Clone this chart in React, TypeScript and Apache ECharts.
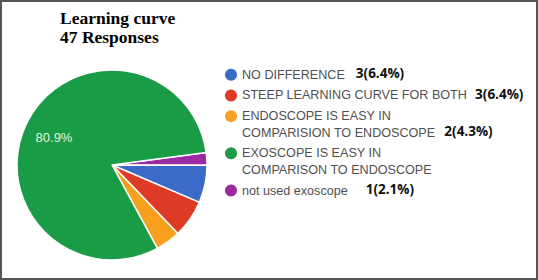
import React, { useEffect, useRef } from "react";
import * as echarts from "echarts";

// ---- data ----
const titleLines = ["Learning curve", "47 Responses"];
const categories = [
  "NO DIFFERENCE",
  "STEEP LEARNING CURVE FOR BOTH",
  "ENDOSCOPE IS EASY IN\nCOMPARISION TO ENDOSCOPE",
  "EXOSCOPE IS EASY IN\nCOMPARISON TO ENDOSCOPE",
  "not used exoscope",
];
const counts = [3, 3, 2, 38, 1];
const showCount = [true, true, true, false, true];
const colors = ["#3a6bc8", "#df3a26", "#f7a01e", "#1a9b45", "#9c2aa0"];
// order in which slices are drawn clockwise
const pieOrder = [4, 0, 1, 2, 3];
const labelledSlice = 3;

// ---- layout ----
const countGaps = [11, 8, 9, 0, 18];
const LEG_X = 231;
const LEG_TEXT_X = 242;
const LEG_TOP = 66.5;
const LINE_H = 16.5;
const ROW_GAP = 4.2;

export default function App() {
  const ref = useRef<HTMLDivElement>(null);
  useEffect(() => {
    if (!ref.current) return;
    const chart = echarts.init(ref.current, undefined, { renderer: "svg" });
    const total = counts.reduce((a, b) => a + b, 0);
    const pctOf = (v: number) => ((v / total) * 100).toFixed(1);

    const legendEls: any[] = [];
    let y = LEG_TOP;
    categories.forEach((name, i) => {
      const lines = name.split("\n");
      const rich = lines
        .map((l, j) => {
          let s = `{n|${l}}`;
          if (j === lines.length - 1 && showCount[i]) {
            s += `{c|${counts[i]}(${pctOf(counts[i])}%)}`;
          }
          return s;
        })
        .join("\n");
      legendEls.push({
        type: "circle",
        shape: { cx: LEG_X, cy: y + LINE_H / 2, r: 6 },
        style: { fill: colors[i] },
      });
      legendEls.push({
        type: "text",
        x: LEG_TEXT_X,
        y: y,
        style: {
          text: rich,
          verticalAlign: "top",
          rich: {
            n: {
              fontFamily: "Liberation Sans, Arial, sans-serif",
              fontSize: 12.6,
              fill: "#505050",
              lineHeight: LINE_H,
            },
            c: {
              fontFamily: "Open Sans, sans-serif",
              fontWeight: "bold",
              fontSize: 13.5,
              fill: "#111",
              lineHeight: LINE_H,
              padding: [0, 0, 3, countGaps[i]],
            },
          },
        },
      });
      y += lines.length * LINE_H + ROW_GAP;
    });

    chart.setOption({
      animation: false,
      backgroundColor: "#fff",
      title: {
        text: titleLines.join("\n"),
        left: 60,
        top: 8,
        padding: 0,
        textStyle: {
          fontFamily: "Liberation Serif, Times New Roman, serif",
          fontWeight: "bold",
          fontSize: 17.5,
          lineHeight: 19.5,
          color: "#000",
        },
      },
      series: [
        {
          type: "pie",
          center: [112, 165],
          radius: 95,
          startAngle: 7.5,
          clockwise: true,
          silent: true,
          itemStyle: { borderColor: "#fff", borderWidth: 1.5 },
          label: { show: false },
          labelLine: { show: false },
          labelLayout: { dx: -13, dy: -5 },
          data: pieOrder.map((i) => ({
            name: categories[i],
            value: counts[i],
            itemStyle: { color: colors[i] },
            label:
              i === labelledSlice
                ? {
                    show: true,
                    position: "inside",
                    formatter: (p: any) => `${pctOf(p.value)}%`,
                    color: "#e2f2e2",
                    fontSize: 13,
                    fontFamily: "Liberation Sans, Arial, sans-serif",
                  }
                : { show: false },
          })),
        },
      ],
      graphic: [
        ...legendEls,
        {
          type: "rect",
          shape: { x: 1, y: 1, width: 536, height: 278 },
          style: { fill: "none", stroke: "#555", lineWidth: 2 },
          z: 100,
        },
      ],
    });
    return () => chart.dispose();
  }, []);
  return (
    <div
      ref={ref}
      style={{ position: "fixed", left: 0, top: 0, width: 538, height: 280 }}
    />
  );
}
